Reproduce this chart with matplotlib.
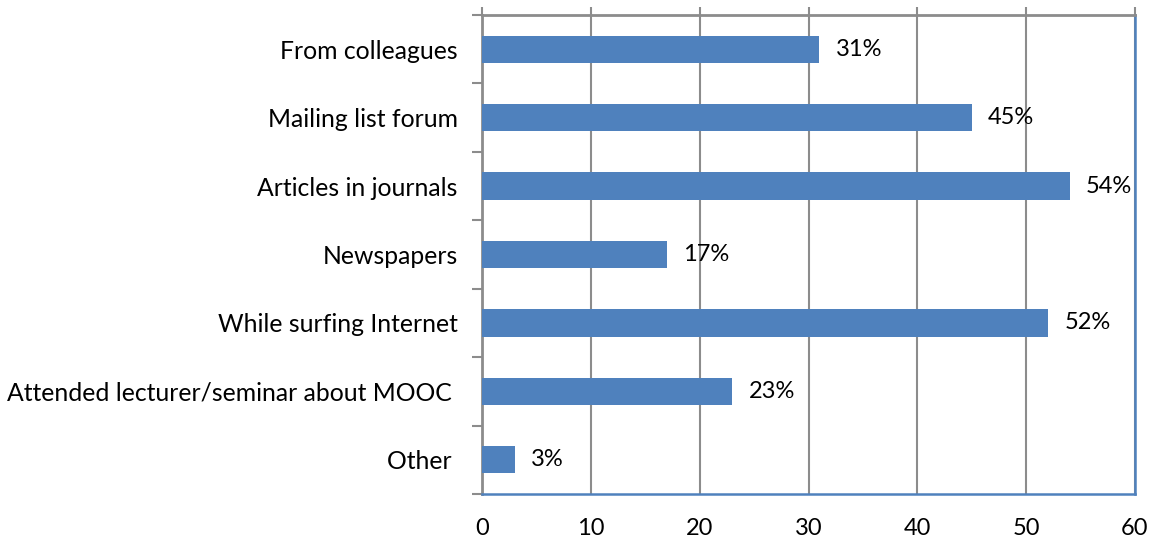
import numpy as np
import matplotlib.pyplot as plt

# survey answers, top to bottom as shown
categories = ['From colleagues', 'Mailing list forum', 'Articles in journals', 'Newspapers',
              'While surfing Internet', 'Attended lecturer/seminar about MOOC ', 'Other ']
values = [31, 45, 54, 17, 52, 23, 3]
value_labels = ['31%', '45%', '54%', '17%', '52%', '23%', '3%']
xticks = [0, 10, 20, 30, 40, 50, 60]

plt.rcParams['font.family'] = ['Lato', 'DejaVu Sans']
blue = '#4f81bd'
gray = '#8c8c8c'

fig = plt.figure(figsize=(11.57, 5.42), dpi=100)
ax = fig.add_axes([482 / 1157, 1 - 494 / 542, (1135 - 482) / 1157, (494 - 15) / 542])

y = np.arange(len(categories))
ax.barh(y, values, height=0.4, color=blue, zorder=3)
for yi, v, lab in zip(y, values, value_labels):
    ax.text(v + 1.5, yi, lab, va='center', ha='left', fontsize=17, zorder=4)

ax.set_xlim(0, 60)
ax.set_ylim(len(categories) - 0.5, -0.5)
ax.set_xticks(xticks)
ax.set_xticklabels([str(t) for t in xticks], fontsize=17)
ax.tick_params(axis='x', bottom=False, top=True, labelbottom=True, labeltop=False,
               direction='out', length=6, width=1.5, color=gray, pad=11.5)
ax.xaxis.grid(True, color=gray, linewidth=1.5, zorder=0)

ax.set_yticks(y)
ax.set_yticklabels(categories, fontsize=17.8)
ax.set_yticks(np.arange(-0.5, len(categories)), minor=True)
ax.tick_params(axis='y', which='major', length=0, pad=17.5)
ax.tick_params(axis='y', which='minor', length=7, width=1.5, color=gray, direction='out')

ax.spines['top'].set_color(gray)
ax.spines['left'].set_color(gray)
ax.spines['top'].set_linewidth(2)
ax.spines['left'].set_linewidth(2)
ax.spines['right'].set_color(blue)
ax.spines['bottom'].set_color(blue)
ax.spines['right'].set_linewidth(1.8)
ax.spines['bottom'].set_linewidth(1.8)

fig.savefig('out.png', dpi=100)
